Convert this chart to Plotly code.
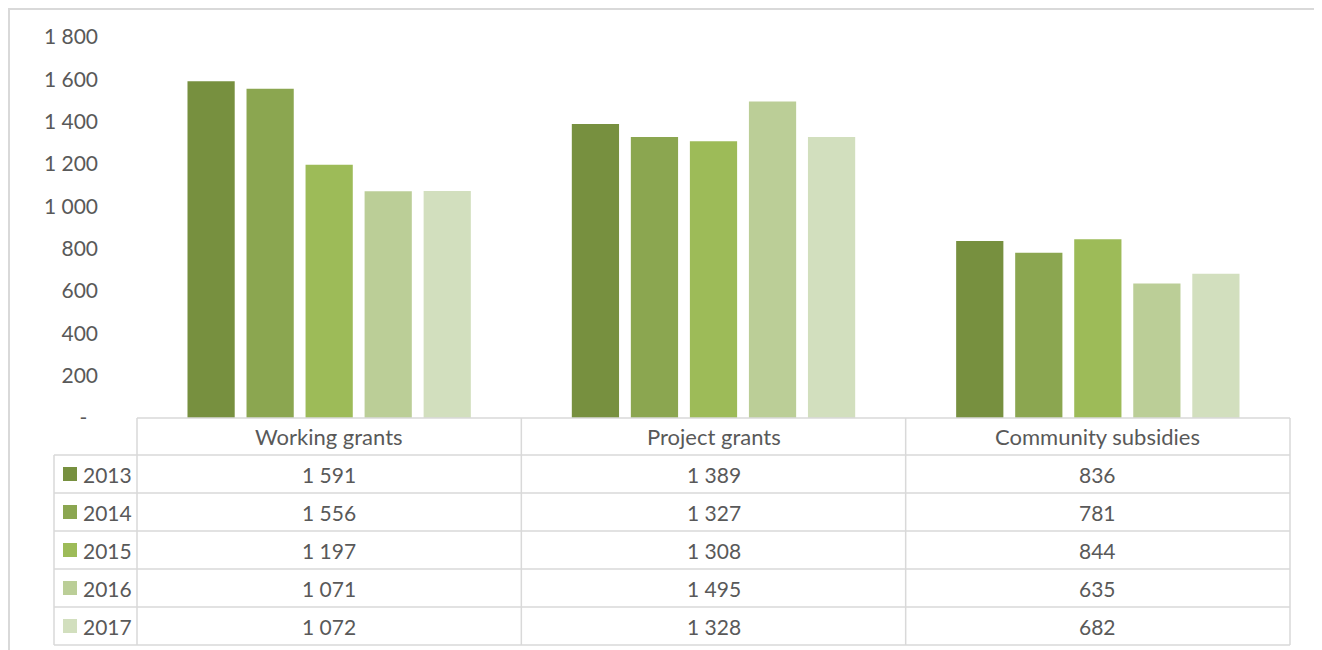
import plotly.graph_objects as go

# data
categories = ["Working grants", "Project grants", "Community subsidies"]
years = ["2013", "2014", "2015", "2016", "2017"]
values = {
    "2013": [1591, 1389, 836],
    "2014": [1556, 1327, 781],
    "2015": [1197, 1308, 844],
    "2016": [1071, 1495, 635],
    "2017": [1072, 1328, 682],
}
y_ticks = [0, 200, 400, 600, 800, 1000, 1200, 1400, 1600, 1800]
y_ticktext = ["-\u00a0\u00a0", "200", "400", "600", "800",
              "1 000", "1 200", "1 400", "1 600", "1 800"]

colors = ["#77903F", "#8BA650", "#9DBB58", "#BBCE97", "#D2DFBE"]
OFF = 8  # page body margin
W, H = 1322 - OFF, 650 - OFF
TEXT = "#595959"
LINE = "#D9D9D9"
FONT = "Lato"


def px_x(x):
    return (x - OFF) / W


def px_y(y):
    return 1 - (y - OFF) / H


def fmt(v):
    return f"{v:,}".replace(",", " ")


fig = go.Figure()
for yr, c in zip(years, colors):
    fig.add_trace(go.Bar(x=categories, y=values[yr], name=yr, marker_color=c,
                         marker_line_width=0))

# table geometry (pixels in the window)
tbl_left, col0, tbl_right = 54, 137, 1290
top, head_bot, row_h = 418, 455, 38
col_w = (tbl_right - col0) / len(categories)

shapes = []


def hline(y, x0, x1):
    shapes.append(dict(type="line", xref="paper", yref="paper",
                       x0=px_x(x0), x1=px_x(x1), y0=px_y(y), y1=px_y(y),
                       line=dict(color=LINE, width=1.5)))


def vline(x, y0, y1):
    shapes.append(dict(type="line", xref="paper", yref="paper",
                       x0=px_x(x), x1=px_x(x), y0=px_y(y0), y1=px_y(y1),
                       line=dict(color=LINE, width=1.5)))


bottom = head_bot + row_h * len(years)
hline(top, col0, tbl_right)
for i in range(len(years) + 1):
    hline(head_bot + i * row_h, tbl_left, tbl_right)
vline(tbl_left, head_bot, bottom)
for j in range(len(categories) + 1):
    vline(col0 + j * col_w, top, bottom)

# outer chart border
shapes.append(dict(type="rect", xref="paper", yref="paper",
                   x0=px_x(9), x1=px_x(1318), y0=px_y(660), y1=px_y(9),
                   line=dict(color=LINE, width=2), fillcolor="rgba(0,0,0,0)"))

annotations = []
for j, cat in enumerate(categories):
    annotations.append(dict(x=px_x(col0 + (j + 0.5) * col_w), y=px_y((top + head_bot) / 2),
                            xref="paper", yref="paper", text=cat, showarrow=False,
                            xanchor="center", yanchor="middle",
                            font=dict(family=FONT, size=22, color=TEXT)))

for i, (yr, c) in enumerate(zip(years, colors)):
    cy = head_bot + (i + 0.5) * row_h
    shapes.append(dict(type="rect", xref="paper", yref="paper",
                       x0=px_x(63), x1=px_x(77), y0=px_y(cy + 7), y1=px_y(cy - 7),
                       fillcolor=c, line=dict(width=0)))
    annotations.append(dict(x=px_x(81), y=px_y(cy), xref="paper", yref="paper",
                            text=yr, showarrow=False, xanchor="left", yanchor="middle",
                            font=dict(family=FONT, size=21, color=TEXT)))
    for j, v in enumerate(values[yr]):
        annotations.append(dict(x=px_x(col0 + (j + 0.5) * col_w), y=px_y(cy),
                                xref="paper", yref="paper", text=fmt(v), showarrow=False,
                                xanchor="center", yanchor="middle",
                                font=dict(family=FONT, size=21, color=TEXT)))

fig.update_layout(
    width=W, height=H,
    margin=dict(l=0, r=0, t=0, b=0, pad=0),
    paper_bgcolor="white", plot_bgcolor="white",
    barmode="group", bargap=0.232, bargroupgap=0.2,
    showlegend=False,
    shapes=shapes, annotations=annotations,
    xaxis=dict(domain=[px_x(col0), px_x(tbl_right)], showticklabels=False,
               showgrid=False, zeroline=False, showline=False, ticks="",
               automargin=False),
    yaxis=dict(domain=[px_y(top), px_y(37)], range=[0, 1800],
               tickvals=y_ticks, ticktext=y_ticktext, showgrid=False,
               zeroline=False, showline=False, ticks="", ticklabelstandoff=38,
               automargin=False,
               tickfont=dict(family=FONT, size=21, color=TEXT)),
)

fig.write_html("out.html")
